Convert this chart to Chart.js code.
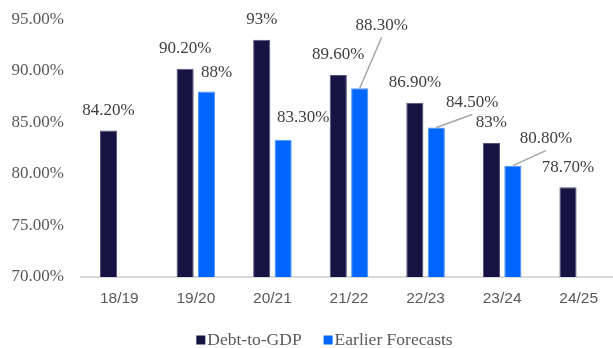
<!DOCTYPE html>
<html>
<head>
<meta charset="utf-8">
<script src="https://cdn.jsdelivr.net/npm/chart.js@4/dist/chart.umd.min.js"></script>
<style>
  html, body { margin: 0; padding: 0; background: #fff; overflow: hidden; }
  #wrap { position: relative; width: 613px; height: 348px; overflow: hidden; }
  #box { position: absolute; left: 0; top: 0; width: 617px; height: 348px; }
</style>
</head>
<body>
<div id="wrap"><div id="box"><canvas id="c"></canvas></div></div>
<script>
/* Debt-to-GDP vs earlier forecasts, by fiscal year */
const categories = ["18/19", "19/20", "20/21", "21/22", "22/23", "23/24", "24/25"];
const debtToGdp = [84.2, 90.2, 93, 89.6, 86.9, 83, 78.7];
const earlierForecasts = [null, 88, 83.3, 88.3, 84.5, 80.8, null];
const debtLabels = ["84.20%", "90.20%", "93%", "89.60%", "86.90%", "83%", "78.70%"];
const forecastLabels = [null, "88%", "83.30%", "88.30%", "84.50%", "80.80%", null];
const yTicks = [70, 75, 80, 85, 90, 95];

// label placement for the forecast series: [dx, dy, leader line?]
const forecastLabelPos = [null, [10, -19, false], [20, -22, false], [22, -63, true], [36, -25, true], [33, -27, true], null];

const SERIF = "'Liberation Serif', 'DejaVu Serif', serif";
const LABEL_COLOR = "#404040";
const LEGEND_CENTER_X = 324.5, LEGEND_Y = 340;

const valueLabels = {
  id: "valueLabels",
  afterDatasetsDraw(chart) {
    const ctx = chart.ctx;
    ctx.save();
    ctx.font = "17px " + SERIF;
    ctx.fillStyle = LABEL_COLOR;
    ctx.textAlign = "center";
    ctx.textBaseline = "middle";
    const m0 = chart.getDatasetMeta(0), m1 = chart.getDatasetMeta(1);
    m0.data.forEach((bar, i) => {
      if (debtToGdp[i] == null) return;
      ctx.fillText(debtLabels[i], bar.x, bar.y - 20);
    });
    m1.data.forEach((bar, i) => {
      const p = forecastLabelPos[i];
      if (earlierForecasts[i] == null || !p) return;
      const lx = bar.x + p[0], ly = bar.y + p[1];
      if (p[2]) {
        ctx.strokeStyle = "#a6a6a6";
        ctx.lineWidth = 1.5;
        ctx.beginPath();
        ctx.moveTo(bar.x, bar.y);
        ctx.lineTo(lx, ly + 12);
        ctx.stroke();
      }
      ctx.fillText(forecastLabels[i], lx, ly);
    });
    ctx.restore();
  },
};

// Excel-style legend: small square, tight gap, text
const boxLegend = {
  id: "boxLegend",
  afterDraw(chart) {
    const ctx = chart.ctx;
    ctx.save();
    ctx.font = "17.5px " + SERIF;
    ctx.textBaseline = "middle";
    ctx.textAlign = "left";
    const items = chart.data.datasets.map(d => ({ text: d.label, color: d.backgroundColor }));
    const box = 9, gap = 2, itemGap = 22;
    const widths = items.map(it => box + gap + ctx.measureText(it.text).width);
    const total = widths.reduce((a, b) => a + b, 0) + itemGap * (items.length - 1);
    let x = LEGEND_CENTER_X - total / 2;
    items.forEach((it, i) => {
      ctx.fillStyle = it.color;
      ctx.fillRect(x, LEGEND_Y - box / 2, box, box);
      ctx.fillStyle = "#595959";
      ctx.fillText(it.text, x + box + gap, LEGEND_Y);
      x += widths[i] + itemGap;
    });
    ctx.restore();
  },
};

new Chart(document.getElementById("c"), {
  type: "bar",
  data: {
    labels: categories,
    datasets: [
      { label: "Debt-to-GDP", data: debtToGdp, backgroundColor: "#171343",
        borderColor: "#55537a", borderWidth: 1, borderSkipped: "bottom" },
      { label: "Earlier Forecasts", data: earlierForecasts, backgroundColor: "#0066ff",
        borderColor: "#4d94ff", borderWidth: 1, borderSkipped: "bottom" },
    ],
  },
  options: {
    responsive: true, maintainAspectRatio: false, animation: false,
    layout: { padding: { top: 8, right: 0, left: 0, bottom: 41 } },
    datasets: { bar: { categoryPercentage: 0.56, barPercentage: 0.8 } },
    plugins: {
      legend: { display: false },
      tooltip: { enabled: false },
    },
    scales: {
      x: {
        grid: { display: false },
        border: { color: "#d9d9d9", width: 2 },
        ticks: { color: "#595959", padding: 4, font: { family: "'Liberation Sans', Arial, sans-serif", size: 15.5 } },
        afterFit: s => { s.height = 30; },
      },
      y: {
        min: 70, max: 95,
        grid: { display: false },
        border: { display: false },
        afterBuildTicks: s => { s.ticks = yTicks.map(v => ({ value: v })); },
        afterFit: s => { s.width = 81; },
        ticks: { color: "#595959", padding: 9, font: { family: SERIF, size: 17 },
          callback: v => v.toFixed(2) + "%" },
      },
    },
  },
  plugins: [valueLabels, boxLegend],
});
</script>
</body>
</html>
